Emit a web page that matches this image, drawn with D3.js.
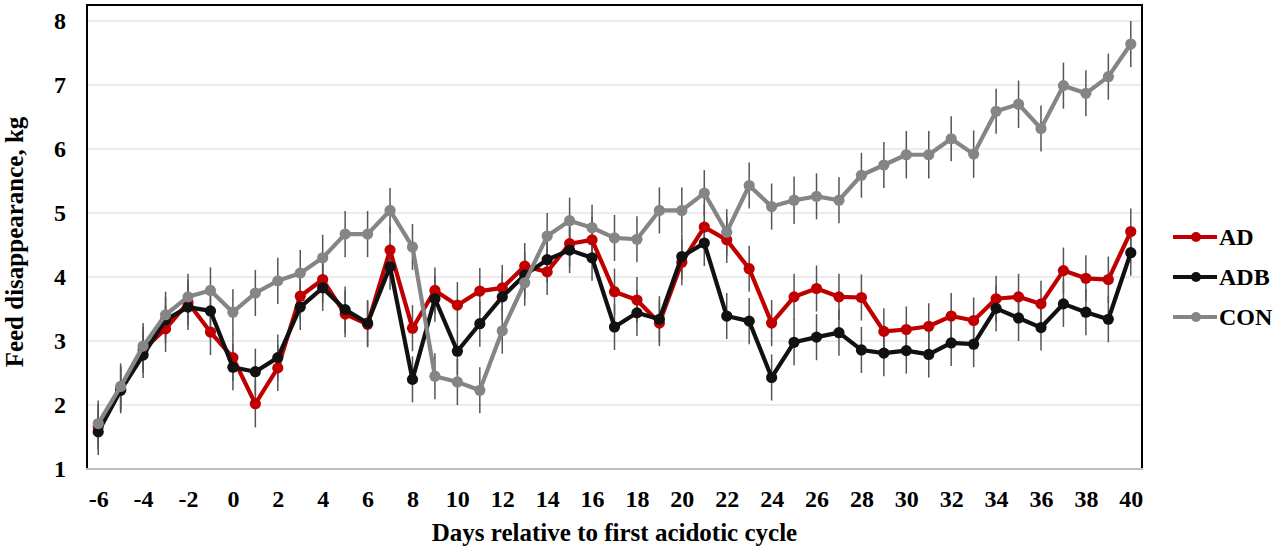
<!DOCTYPE html>
<html><head><meta charset="utf-8">
<script src="https://cdn.jsdelivr.net/npm/d3@7"></script>
<style>html,body{margin:0;padding:0;background:#fff;}svg{display:block;}</style>
</head><body>
<script>
const days = [-6,-5,-4,-3,-2,-1,0,1,2,3,4,5,6,7,8,9,10,11,12,13,14,15,16,17,18,19,20,21,22,23,24,25,26,27,28,29,30,31,32,33,34,35,36,37,38,39,40];
const AD  = [1.66,2.25,2.86,3.19,3.60,3.14,2.74,2.02,2.58,3.70,3.96,3.42,3.26,4.42,3.20,3.79,3.56,3.78,3.83,4.17,4.08,4.52,4.58,3.77,3.64,3.28,4.23,4.78,4.58,4.13,3.28,3.69,3.82,3.69,3.68,3.15,3.18,3.23,3.39,3.32,3.66,3.69,3.58,4.10,3.98,3.96,4.71];
const ADB = [1.58,2.23,2.78,3.33,3.53,3.47,2.59,2.52,2.74,3.53,3.83,3.49,3.28,4.16,2.40,3.66,2.84,3.27,3.69,4.03,4.27,4.42,4.30,3.22,3.44,3.34,4.32,4.53,3.39,3.31,2.43,2.98,3.06,3.13,2.86,2.81,2.85,2.79,2.97,2.95,3.51,3.36,3.21,3.58,3.45,3.34,4.38];
const CON = [1.71,2.29,2.92,3.41,3.69,3.79,3.45,3.75,3.94,4.06,4.30,4.67,4.67,5.04,4.47,2.45,2.36,2.23,3.16,3.91,4.64,4.88,4.77,4.61,4.59,5.04,5.04,5.31,4.70,5.43,5.10,5.20,5.26,5.20,5.59,5.75,5.91,5.91,6.16,5.92,6.59,6.70,6.32,6.99,6.87,7.13,7.64];
const SE_AD  = [0.36,0.36,0.36,0.36,0.36,0.36,0.36,0.37,0.36,0.36,0.36,0.36,0.36,0.36,0.36,0.36,0.36,0.36,0.36,0.36,0.36,0.36,0.36,0.36,0.36,0.36,0.36,0.36,0.36,0.36,0.36,0.36,0.36,0.36,0.36,0.36,0.36,0.36,0.36,0.36,0.36,0.36,0.36,0.36,0.36,0.36,0.36];
const SE_ADB = [0.36,0.36,0.36,0.36,0.36,0.36,0.36,0.36,0.36,0.36,0.36,0.36,0.36,0.36,0.36,0.36,0.36,0.36,0.36,0.36,0.36,0.36,0.36,0.36,0.36,0.36,0.36,0.36,0.36,0.36,0.36,0.36,0.36,0.36,0.36,0.36,0.36,0.36,0.36,0.36,0.36,0.36,0.36,0.36,0.36,0.36,0.36];
const SE_CON = [0.36,0.36,0.36,0.36,0.36,0.36,0.36,0.36,0.36,0.36,0.36,0.36,0.36,0.35,0.36,0.36,0.36,0.36,0.36,0.36,0.36,0.36,0.36,0.36,0.36,0.36,0.36,0.36,0.36,0.36,0.36,0.37,0.36,0.36,0.35,0.36,0.37,0.37,0.35,0.37,0.35,0.37,0.36,0.36,0.36,0.36,0.36];
const xTicks = [-6,-4,-2,0,2,4,6,8,10,12,14,16,18,20,22,24,26,28,30,32,34,36,38,40];
const yTicks = [1,2,3,4,5,6,7,8];
const seriesNames = ["AD","ADB","CON"];
const seriesColors = ["#c00000","#111111","#858585"];

const series = [
  {name:seriesNames[0], color:seriesColors[0], vals:AD,  se:SE_AD},
  {name:seriesNames[1], color:seriesColors[1], vals:ADB, se:SE_ADB},
  {name:seriesNames[2], color:seriesColors[2], vals:CON, se:SE_CON}
];

const W = 1280, H = 552;
const L = 87, R = 1142, T = 5, B = 469;
const font = "'Liberation Serif','Times New Roman',serif";

const svg = d3.select("body").append("svg").attr("width", W).attr("height", H);
const x = d3.scaleLinear().domain([-6.5, 40.5]).range([L, R]);
const y = d3.scaleLinear().domain([1, 8]).range([B, 21]);

// gridlines
svg.append("g").selectAll("line").data(yTicks.slice(1)).join("line")
  .attr("x1", L).attr("x2", R).attr("y1", d => y(d)).attr("y2", d => y(d))
  .attr("stroke", "#d9d9d9").attr("stroke-width", 1.2);

// frame
svg.append("path").attr("d", `M${L},${B}V${T}H${R}V${B}`)
  .attr("fill", "none").attr("stroke", "#000").attr("stroke-width", 2);
svg.append("line").attr("x1", L - 1).attr("x2", R + 1).attr("y1", B).attr("y2", B)
  .attr("stroke", "#bdbdbd").attr("stroke-width", 2);

// axes
const xAxis = d3.axisBottom(x).tickValues(xTicks).tickSize(0).tickPadding(21)
  .tickFormat(d => String(d));
const gx = svg.append("g").attr("transform", `translate(0,${B})`).call(xAxis);
gx.select(".domain").remove();
gx.selectAll("text").attr("font-family", font).attr("font-weight", "bold")
  .attr("font-size", 24).attr("fill", "#000");

const yAxis = d3.axisLeft(y).tickValues(yTicks).tickSize(0).tickPadding(21).tickFormat(d => String(d));
const gy = svg.append("g").attr("transform", `translate(${L},0)`).call(yAxis);
gy.select(".domain").remove();
gy.selectAll("text").attr("font-family", font).attr("font-weight", "bold")
  .attr("font-size", 24).attr("fill", "#000");

// error bars
series.forEach(s => {
  svg.append("g").selectAll("line").data(days).join("line")
    .attr("x1", (d) => x(d)).attr("x2", (d) => x(d))
    .attr("y1", (d, i) => y(s.vals[i] - s.se[i]))
    .attr("y2", (d, i) => y(s.vals[i] + s.se[i]))
    .attr("stroke", "#555").attr("stroke-width", 1.5);
});

// lines and markers
const line = d3.line().x((d) => x(d[0])).y((d) => y(d[1]));
series.forEach(s => {
  const pts = days.map((d, i) => [d, s.vals[i]]);
  const g = svg.append("g");
  g.append("path").datum(pts).attr("d", line)
    .attr("fill", "none").attr("stroke", s.color).attr("stroke-width", 4.2)
    .attr("stroke-linejoin", "round");
  g.selectAll("circle").data(pts).join("circle")
    .attr("cx", d => x(d[0])).attr("cy", d => y(d[1])).attr("r", 5.6)
    .attr("fill", s.color);
});

// legend
const lg = svg.append("g");
series.forEach((s, i) => {
  const ly = 237 + i * 40;
  lg.append("line").attr("x1", 1173).attr("x2", 1217).attr("y1", ly).attr("y2", ly)
    .attr("stroke", s.color).attr("stroke-width", 4.2);
  lg.append("circle").attr("cx", 1196).attr("cy", ly).attr("r", 5).attr("fill", s.color);
  lg.append("text").attr("x", 1219).attr("y", ly + 8).text(s.name)
    .attr("font-family", font).attr("font-weight", "bold").attr("font-size", 24).attr("fill", "#000");
});

// axis titles
svg.append("text").attr("x", (L + R) / 2).attr("y", 541).attr("text-anchor", "middle")
  .attr("font-family", font).attr("font-weight", "bold").attr("font-size", 25)
  .text("Days relative to first acidotic cycle");
svg.append("text").attr("transform", "translate(23,242) rotate(-90)").attr("text-anchor", "middle")
  .attr("font-family", font).attr("font-weight", "bold").attr("font-size", 25)
  .text("Feed disappearance, kg");
</script>
</body></html>
